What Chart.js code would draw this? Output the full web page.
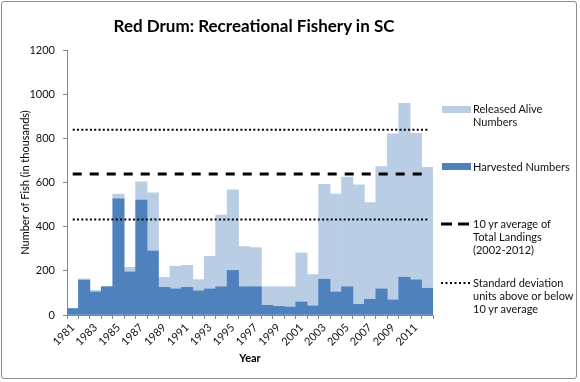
<!DOCTYPE html>
<html>
<head>
<meta charset="utf-8">
<script src="https://cdn.jsdelivr.net/npm/chart.js@4/dist/chart.umd.min.js"></script>
<style>
  html, body { margin: 0; padding: 0; background: #fff; }
  #wrap { position: relative; width: 580px; height: 382px; font-family: Lato, "Open Sans", sans-serif; }
  #c { position: absolute; left: 0; top: 0; }
  #frame { position: absolute; left: 1px; top: 1px; width: 574px; height: 376px; border: 1px solid #8c8c8c; border-radius: 3px; pointer-events: none; }
  #title { position: absolute; left: 0; width: 508px; top: 16px; text-align: center; font-weight: bold; font-size: 17px; line-height: 20px; color: #000; }
  .lg { position: absolute; font-size: 11px; line-height: 13px; color: #111; left: 473px; white-space: nowrap; }
  .sw { position: absolute; }
</style>
</head>
<body>
<div id="wrap">
  <canvas id="c" width="580" height="382"></canvas>
  <div id="title"></div>
  <div id="legend"></div>
  <div id="frame"></div>
</div>
<script>
const chartTitle = 'Red Drum: Recreational Fishery in SC';
const years = ['1981','1982','1983','1984','1985','1986','1987','1988','1989','1990',
  '1991','1992','1993','1994','1995','1996','1997','1998','1999','2000',
  '2001','2002','2003','2004','2005','2006','2007','2008','2009','2010','2011','2012'];
const harvested = [29,158,104,128,526,195,520,290,125,118,
  125,109,118,128,202,128,128,44,39,36,
  59,41,162,104,128,48,71,118,68,171,159,121];
const released = [0,5,8,0,21,21,83,263,46,103,
  100,51,148,325,365,182,177,84,89,92,
  222,142,430,443,496,541,438,554,752,788,664,548];
const tenYrAverage = 638;
const sdAbove = 839;
const sdBelow = 432;
const yMin = 0, yMax = 1200, yStep = 200;
const legendReleased = ['Released Alive', 'Numbers'];
const legendHarvested = ['Harvested Numbers'];
const legendAverage = ['10 yr average of', 'Total Landings', '(2002-2012)'];
const legendSD = ['Standard deviation', 'units above or below', '10 yr average'];
const yTitle = 'Number of Fish (in thousands)';
const xTitle = 'Year';

const DARK = '#4f81bd', LIGHT = '#b9cde5';
const FONT = 'Lato, "Open Sans", sans-serif';

document.getElementById('title').textContent = chartTitle;

function flatLine(v) {
  return [{x: years[0], y: v}, {x: years[years.length - 1], y: v}];
}

new Chart(document.getElementById('c'), {
  type: 'bar',
  data: {
    labels: years,
    datasets: [
      { label: legendHarvested.join(' '), data: harvested, backgroundColor: DARK, stack: 'bars', order: 2,
        borderWidth: 0, barPercentage: 1, categoryPercentage: 1 },
      { label: legendReleased.join(' '), data: released, backgroundColor: LIGHT, stack: 'bars', order: 2,
        borderWidth: 0, barPercentage: 1, categoryPercentage: 1 },
      { type: 'line', label: 'avg', data: flatLine(tenYrAverage), stack: 'l1', order: 0,
        borderColor: '#000', borderWidth: 3, borderDash: [9, 8], pointRadius: 0, fill: false },
      { type: 'line', label: 'sd+', data: flatLine(sdAbove), stack: 'l2', order: 0,
        borderColor: '#000', borderWidth: 2, borderDash: [2, 2.3], pointRadius: 0, fill: false },
      { type: 'line', label: 'sd-', data: flatLine(sdBelow), stack: 'l3', order: 0,
        borderColor: '#000', borderWidth: 2, borderDash: [2, 2.3], pointRadius: 0, fill: false }
    ]
  },
  options: {
    responsive: false,
    animation: false,
    layout: { padding: { left: 0, top: 50, right: 147, bottom: 0 } },
    plugins: { legend: { display: false }, tooltip: { enabled: false }, title: { display: false } },
    scales: {
      x: {
        stacked: true,
        offset: true,
        grid: { display: true, drawOnChartArea: false, drawTicks: true, tickLength: 4, color: '#868686', offset: true },
        border: { display: true, color: '#868686' },
        ticks: {
          autoSkip: false, minRotation: 45, maxRotation: 45, padding: 2,
          color: '#111', font: { family: FONT, size: 11 },
          callback: function(val, i) { return i % 2 === 0 ? this.getLabelForValue(val) : ''; }
        },
        title: { display: true, text: xTitle, color: '#000', font: { family: FONT, size: 11, weight: 'bold' },
          padding: { top: 0, bottom: 17 } },
        afterFit: s => { s.height = 67; }
      },
      y: {
        stacked: true,
        min: yMin, max: yMax,
        grid: { display: true, drawOnChartArea: false, drawTicks: true, tickLength: 4, color: '#868686' },
        border: { display: true, color: '#868686' },
        ticks: { stepSize: yStep, padding: 8, color: '#111', font: { family: FONT, size: 11 },
          callback: v => String(v) },
        title: { display: true, text: yTitle, color: '#000', font: { family: FONT, size: 11 },
          padding: { top: 19, bottom: 0 } },
        afterFit: s => { s.width = 67; }
      }
    }
  }
});

// HTML legend
const legend = document.getElementById('legend');
function addText(lines, top) {
  const d = document.createElement('div');
  d.className = 'lg';
  d.style.top = top + 'px';
  d.innerHTML = lines.map(t => t.replace(/&/g, '&amp;').replace(/</g, '&lt;')).join('<br>');
  legend.appendChild(d);
}
function addBox(color, top, h) {
  const d = document.createElement('div');
  d.className = 'sw';
  d.style.left = '442px'; d.style.top = top + 'px';
  d.style.width = '29px'; d.style.height = h + 'px';
  d.style.background = color;
  legend.appendChild(d);
}
function addLine(y, w, dash) {
  const ns = 'http://www.w3.org/2000/svg';
  const svg = document.createElementNS(ns, 'svg');
  svg.setAttribute('width', '30'); svg.setAttribute('height', '8');
  svg.style.position = 'absolute'; svg.style.left = '441px'; svg.style.top = (y - 4) + 'px';
  const l = document.createElementNS(ns, 'line');
  l.setAttribute('x1', '0'); l.setAttribute('x2', '29');
  l.setAttribute('y1', '4'); l.setAttribute('y2', '4');
  l.setAttribute('stroke', '#000'); l.setAttribute('stroke-width', w);
  l.setAttribute('stroke-dasharray', dash);
  svg.appendChild(l);
  legend.appendChild(svg);
}
addBox(LIGHT, 106, 7);
addText(legendReleased, 102);
addBox(DARK, 163, 7);
addText(legendHarvested, 160);
addLine(224, 3, '11 6');
addText(legendAverage, 217);
addLine(283, 2, '2 2.5');
addText(legendSD, 276);
</script>
</body>
</html>
